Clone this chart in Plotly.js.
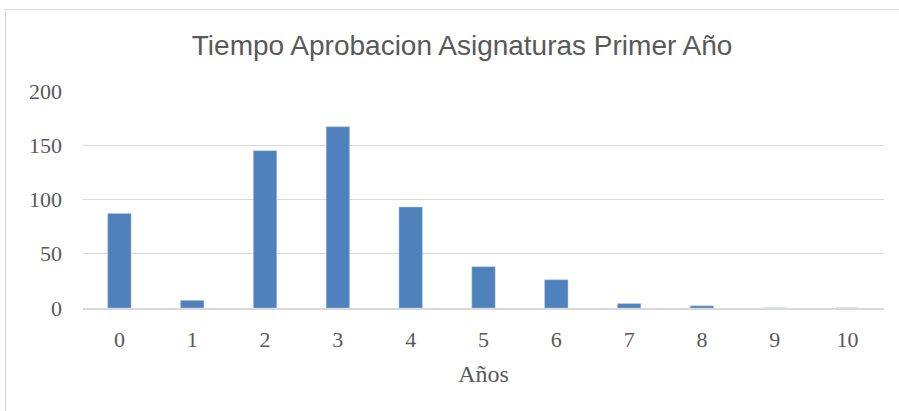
<!DOCTYPE html>
<html>
<head>
<meta charset="utf-8">
<script src="https://cdn.plot.ly/plotly-3.0.1.min.js"></script>
<style>
html,body{margin:0;padding:0;background:#fff;overflow:hidden;}
#frame{position:absolute;left:5px;top:9px;width:1000px;height:1000px;border:1px solid #d9d9d9;box-sizing:border-box;}
#chart{position:absolute;left:0;top:0;width:899px;height:411px;}
</style>
</head>
<body>
<div id="frame"></div>
<div id="chart"></div>
<script>
const categories = ["0","1","2","3","4","5","6","7","8","9","10"];
const values = [87, 7, 145, 167, 93, 38, 26, 4, 2, 0, 0];
const yTicks = [0, 50, 100, 150, 200];
const titleText = "Tiempo Aprobacion Asignaturas Primer Año";
const xTitle = "Años";

const trace = {
  type: "bar",
  x: categories,
  y: values,
  marker: {color: "#4f81bd", line: {color: "#a9c0e0", width: 0.5}},
  hoverinfo: "x+y"
};

const layout = {
  width: 899, height: 411,
  paper_bgcolor: "rgba(0,0,0,0)",
  plot_bgcolor: "rgba(0,0,0,0)",
  margin: {l: 83, r: 15, t: 91, b: 103},
  bargap: 0.68,
  showlegend: false,
  title: {
    text: titleText,
    font: {family: "Liberation Sans, Arial, sans-serif", size: 28, color: "#595959"},
    x: 0.514, xanchor: "center",
    y: 0.89, yanchor: "middle"
  },
  xaxis: {
    type: "category",
    range: [-0.5, 10.5],
    showgrid: false,
    showline: true, linecolor: "#d9d9d9", linewidth: 1.5,
    ticks: "",
    ticklabelstandoff: 11,
    tickfont: {family: "Liberation Serif, DejaVu Serif, serif", size: 22, color: "#595959"},
    title: {text: xTitle, standoff: 14, font: {family: "Liberation Serif, DejaVu Serif, serif", size: 24, color: "#595959"}}
  },
  yaxis: {
    range: [0, 200],
    tickvals: yTicks,
    showgrid: true, gridcolor: "#d9d9d9", gridwidth: 1,
    zeroline: false,
    showline: false,
    ticks: "",
    ticklabelstandoff: 20,
    tickfont: {family: "Liberation Serif, DejaVu Serif, serif", size: 22, color: "#595959"}
  }
};

Plotly.newPlot("chart", [trace], layout, {displayModeBar: false, staticPlot: true});
</script>
</body>
</html>
